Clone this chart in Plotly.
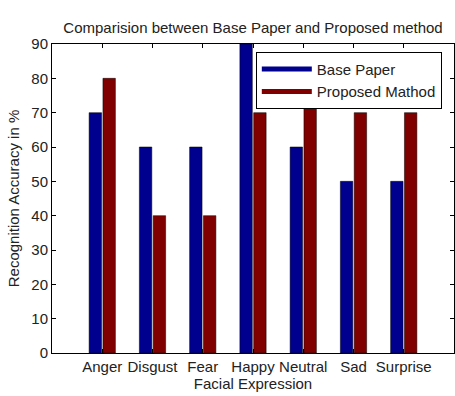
import plotly.graph_objects as go

categories = ["Anger", "Disgust", "Fear", "Happy", "Neutral", "Sad", "Surprise"]
base_paper = [70, 60, 60, 90, 60, 50, 50]
proposed = [80, 40, 40, 70, 80, 70, 70]
y_ticks = list(range(0, 100, 10))
series_names = ["Base Paper", "Proposed Mathod"]
colors = ["#00008F", "#800000"]

x = list(range(1, len(categories) + 1))

fig = go.Figure()
for name, vals, col in zip(series_names, [base_paper, proposed], colors):
    fig.add_trace(go.Bar(x=x, y=vals, name=name, showlegend=False,
                         marker=dict(color=col, line=dict(color="black", width=0.5))))
# legend entries with wide rectangular swatches
for name, col in zip(series_names, colors):
    fig.add_trace(go.Scatter(x=[None], y=[None], mode="lines", name=name,
                             line=dict(color=col, width=14)))

font = "Liberation Sans, Arial, sans-serif"
fig.update_layout(
    width=455, height=396,
    margin=dict(l=52, r=1, t=44, b=43),
    paper_bgcolor="white", plot_bgcolor="white",
    barmode="group", bargap=0.45, bargroupgap=0.1,
    font=dict(family=font, size=15, color="#222"),
    title=dict(text="Comparision between Base Paper and Proposed method",
               xref="paper", x=0.5, xanchor="center", y=1 - 28 / 396, yanchor="middle",
               font=dict(size=15, color="#222")),
    legend=dict(x=0.507, y=0.975, xanchor="left", yanchor="top",
                bgcolor="white", bordercolor="black", borderwidth=1,
                font=dict(size=15, color="#222"), tracegroupgap=0,
                itemwidth=50, itemsizing="constant"),
    showlegend=True,
)
fig.update_xaxes(
    range=[0, 8], tickmode="array", tickvals=x, ticktext=categories,
    ticks="inside", ticklen=4, tickcolor="black",
    showline=True, linecolor="black", linewidth=1, mirror="ticks",
    showgrid=False, zeroline=False,
    title=dict(text="Facial Expression", standoff=2, font=dict(size=15)),
    tickfont=dict(size=15),
)
fig.update_yaxes(
    range=[0, 90], tickmode="array", tickvals=y_ticks,
    ticks="inside", ticklen=4, tickcolor="black",
    showline=True, linecolor="black", linewidth=1, mirror="ticks",
    showgrid=False, zeroline=False,
    title=dict(text="Recognition Accuracy in %", standoff=8, font=dict(size=15)),
    tickfont=dict(size=15),
)

fig.write_html("out.html")
